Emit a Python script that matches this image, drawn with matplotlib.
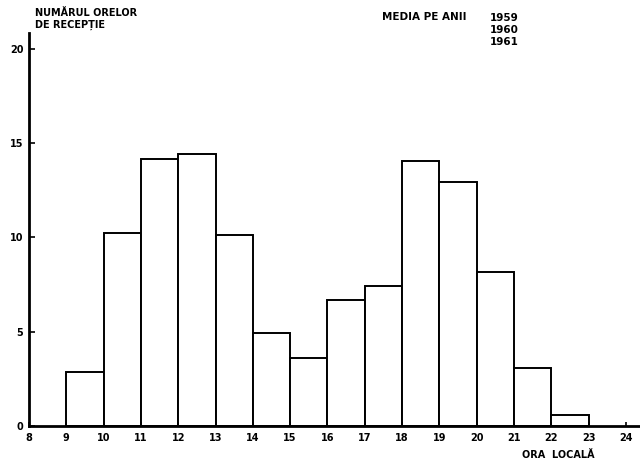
import matplotlib
matplotlib.use("Agg")
import matplotlib.pyplot as plt

hour_start = [9, 10, 11, 12, 13, 14, 15, 16, 17, 18, 19, 20, 21, 22]
counts = [2.85, 10.25, 14.15, 14.4, 10.1, 4.95, 3.6, 6.7, 7.4, 14.05, 12.95, 8.15, 3.1, 0.6]
x_ticks = list(range(8, 25))
y_ticks = [0, 5, 10, 15, 20]

plt.rcParams['font.family'] = ['DejaVu Sans']
fig = plt.figure(figsize=(6.4, 4.63), dpi=100)
ax = fig.add_axes([29/640, 37/463, 611/640, 392.5/463])

ax.bar(hour_start, counts, width=1.0, align='edge', facecolor='white',
       edgecolor='black', linewidth=1.4)

ax.set_xlim(8, 24.38)
ax.set_ylim(0, 20.8)
ax.set_xticks(x_ticks)
ax.set_yticks(y_ticks)
ax.set_xticklabels([str(t) for t in x_ticks], fontsize=7, fontweight='bold')
ax.set_yticklabels([str(t) for t in y_ticks], fontsize=7, fontweight='bold')
ax.tick_params(axis='x', direction='in', length=3, width=1.2, pad=5)
ax.tick_params(axis='y', direction='in', length=4, width=1.2, pad=4)

for s in ['top', 'right']:
    ax.spines[s].set_visible(False)
ax.spines['left'].set_linewidth(2)
ax.spines['bottom'].set_linewidth(2)

fig.text(35/640, 1 - 19/463, "NUMĂRUL ORELOR\nDE RECEPȚIE", fontsize=7,
         fontweight='bold', ha='left', va='center', linespacing=1.1)
fig.text(382/640, 1 - 17/463, "MEDIA PE ANII", fontsize=7.5,
         fontweight='bold', ha='left', va='center')
fig.text(490/640, 1 - 30/463, "1959\n1960\n1961", fontsize=7.5,
         fontweight='bold', ha='left', va='center', linespacing=1.25)
fig.text(522/640, 1 - 455/463, "ORA  LOCALĂ", fontsize=7,
         fontweight='bold', ha='left', va='center')

fig.savefig("out.png", dpi=100)
